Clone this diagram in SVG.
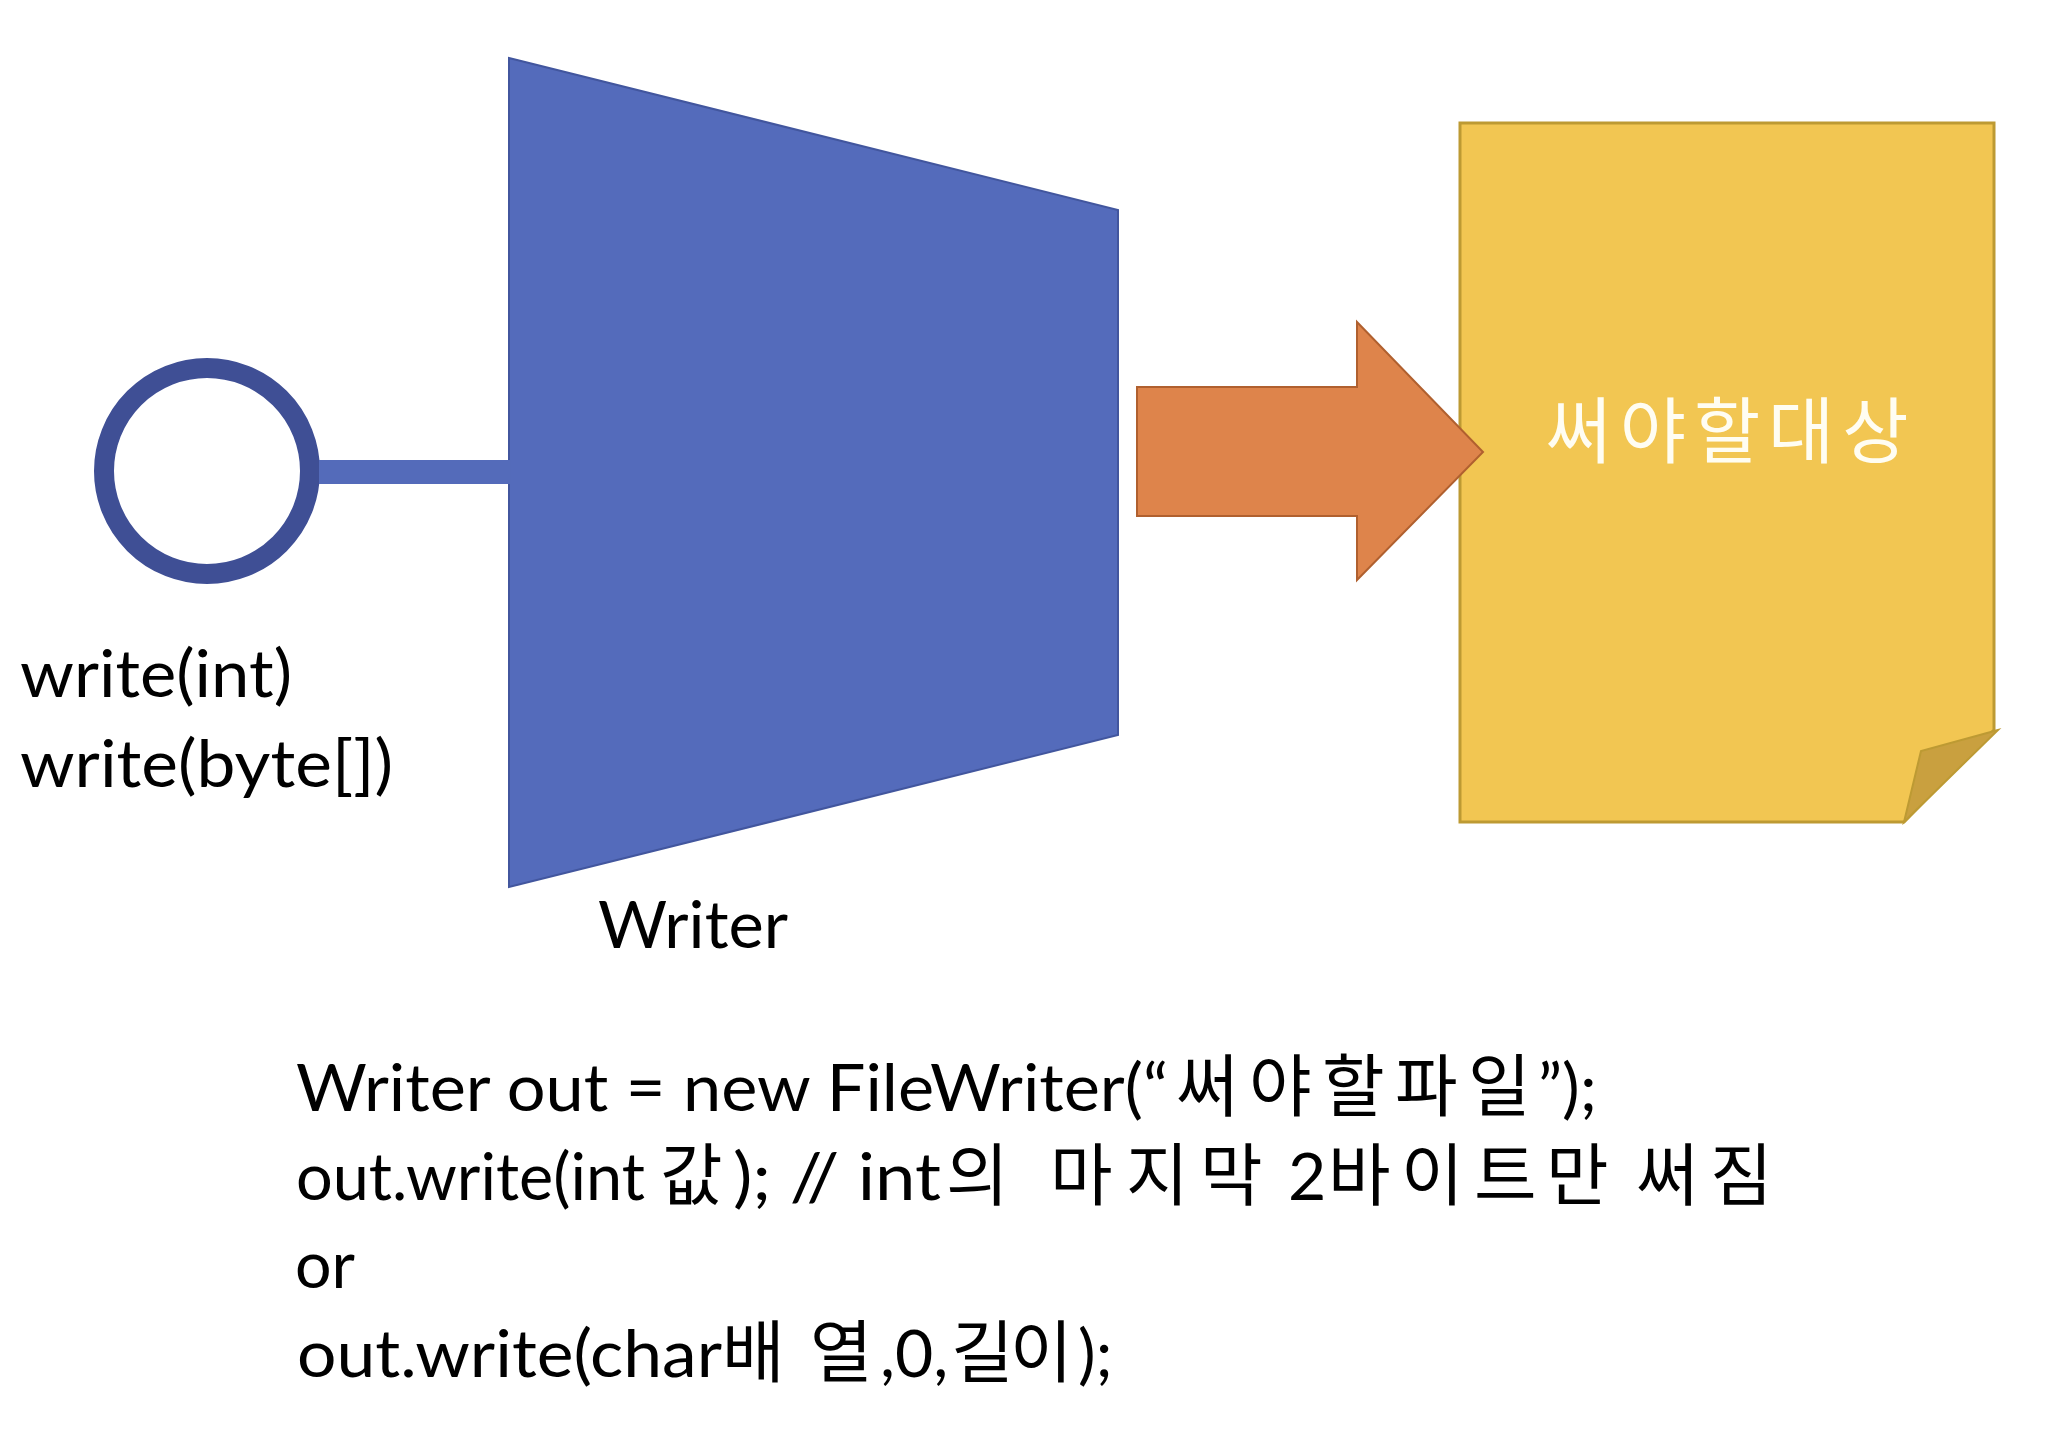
<svg xmlns="http://www.w3.org/2000/svg" width="2050" height="1450" viewBox="0 0 2050 1450">
  <style>
    .lbl { font-family: Lato, "Noto Sans CJK KR", sans-serif; font-size: 66px; fill: #000000; }
    .code { font-family: Lato, "Noto Sans CJK KR", sans-serif; font-size: 66px; fill: #000000; }
    .ko { font-family: "Noto Sans CJK KR", sans-serif; font-size: 68px; }
    .doc-text { font-family: "Noto Sans CJK KR", "Noto Sans", sans-serif; font-size: 72px; fill: #fffdf2; }
  </style>
  <rect x="0" y="0" width="2050" height="1450" fill="#ffffff"/>

  <g id="node-interface">
    <circle cx="207" cy="471" r="103" fill="#ffffff" stroke="#3f4f95" stroke-width="20"/>
    <text class="lbl" x="20" y="697" textLength="272" lengthAdjust="spacingAndGlyphs">write(int)</text>
    <text class="lbl" x="20" y="787" textLength="373" lengthAdjust="spacingAndGlyphs">write(byte[])</text>
  </g>

  <g id="node-writer">
    <polygon points="509,58 1118,210 1118,735 509,887" fill="#546bbb" stroke="#42569e" stroke-width="2"/>
    <text class="lbl" x="598" y="948" textLength="190" lengthAdjust="spacingAndGlyphs">Writer</text>
  </g>

  <g id="node-target">
    <path d="M1460,123 L1994,123 L1994,730 L1904,822 L1460,822 Z" fill="#f2c652" stroke="#bd9a33" stroke-width="3"/>
    <path d="M1998,730 L1921,751 L1904,822 Z" fill="#c9a03f" stroke="#bd9a33" stroke-width="2"/>
    <text class="doc-text" x="1727" y="457" text-anchor="middle" textLength="363" lengthAdjust="spacing">써야할대상</text>
  </g>

  <g id="connectors">
    <line id="conn-interface-writer" x1="319" y1="472" x2="511" y2="472" stroke="#546bba" stroke-width="24"/>
    <path id="conn-writer-target" d="M1137,387 L1357,387 L1357,322 L1483,452 L1357,580 L1357,516 L1137,516 Z" fill="#de844b" stroke="#b0602f" stroke-width="2"/>
  </g>

  <g id="code">
    <text class="code" y="1111"><tspan x="296" textLength="872" lengthAdjust="spacingAndGlyphs">Writer out = new FileWriter(“</tspan><tspan class="ko" x="1176 1249 1322 1395 1468">써야할파일</tspan><tspan x="1538">”);</tspan></text>
    <text class="code" y="1200"><tspan x="296" textLength="349" lengthAdjust="spacingAndGlyphs">out.write(int</tspan><tspan class="ko" x="660">값</tspan><tspan x="733" textLength="208" lengthAdjust="spacingAndGlyphs">); // int</tspan><tspan class="ko" x="946">의</tspan> <tspan class="ko" x="1050 1126 1200">마지막</tspan> <tspan x="1288">2</tspan><tspan class="ko" x="1328 1401 1474 1546">바이트만</tspan> <tspan class="ko" x="1636 1710">써짐</tspan></text>
    <text class="code" x="295" y="1288" textLength="60" lengthAdjust="spacingAndGlyphs">or</text>
    <text class="code" y="1377"><tspan x="297" textLength="425" lengthAdjust="spacingAndGlyphs">out.write(char</tspan><tspan class="ko" x="722 810">배열</tspan><tspan x="880">,0,</tspan><tspan class="ko" x="951 1010">길이</tspan><tspan x="1078">);</tspan></text>
  </g>
</svg>
